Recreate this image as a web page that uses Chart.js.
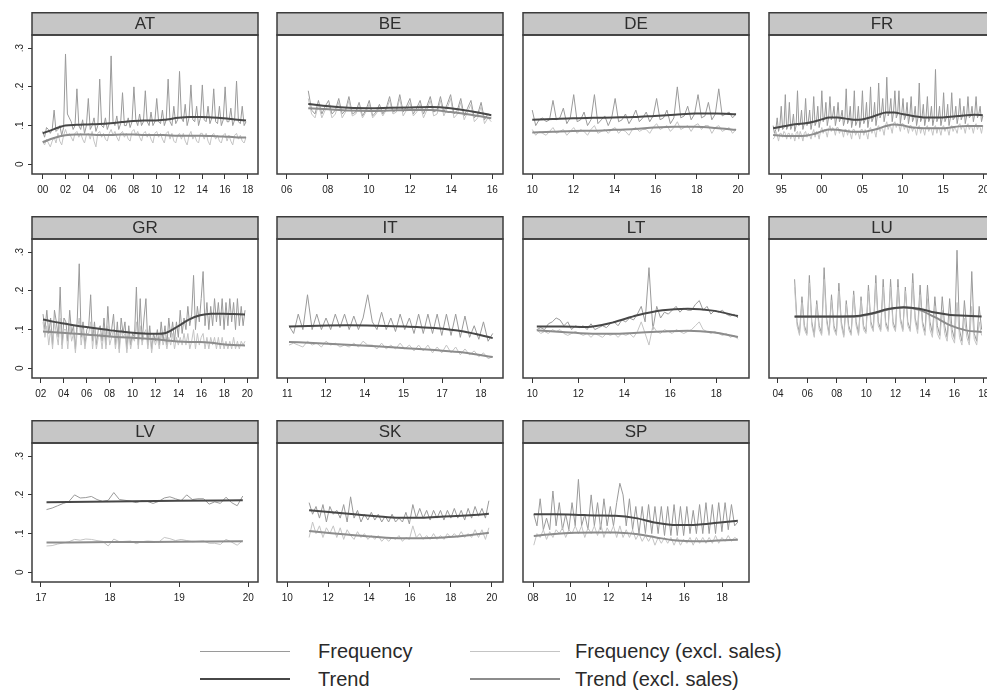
<!DOCTYPE html>
<html lang="en">
<head>
<meta charset="UTF-8"/>
<title>Frequency of price changes by country</title>
<script src="https://cdn.jsdelivr.net/npm/chart.js"></script>
<style>
  body { margin:0; background:#fff; width:987px; height:697px; overflow:hidden; position:relative;
         font-family:"Liberation Sans", Arial, sans-serif; }
  canvas { position:absolute; }
  .lg-line { position:absolute; width:90px; }
  .lg-text { position:absolute; font-size:20px; line-height:24px; color:#2a2a2a; white-space:nowrap; }
</style>
</head>
<body>

<!-- legend -->
<div class="lg-line" style="left:200px; top:651px; border-top:1px solid #9a9a9a;"></div>
<div class="lg-text" style="left:318px; top:639px;">Frequency</div>
<div class="lg-line" style="left:470px; top:651px; border-top:1px solid #c4c4c4;"></div>
<div class="lg-text" style="left:575px; top:639px;">Frequency (excl. sales)</div>
<div class="lg-line" style="left:200px; top:678px; border-top:2px solid #474747;"></div>
<div class="lg-text" style="left:318px; top:667px;">Trend</div>
<div class="lg-line" style="left:470px; top:678px; border-top:2px solid #8c8c8c;"></div>
<div class="lg-text" style="left:575px; top:667px;">Trend (excl. sales)</div>

<script>
// y axis shared by all panels
const yTicks = [0, .1, .2, .3];
const yTickLabels = ['0', '.1', '.2', '.3'];

// ---- AT ----
const atSpan = [2000.0, 2017.85];
const atRange = [1999.06, 2018.9];
const atTicks = [2000, 2002, 2004, 2006, 2008, 2010, 2012, 2014, 2016, 2018];
const atTickLabels = ['00', '02', '04', '06', '08', '10', '12', '14', '16', '18'];
const atFreq = [
  .085,.07,.095,.09,.08,.09, .14,.085,.09,.10,.075,.095, .285,.13,.12,.11,.09,.10,
  .195,.10,.09,.115,.08,.10, .17,.09,.10,.12,.085,.10, .22,.10,.095,.12,.09,.105,
  .28,.11,.10,.125,.09,.105, .185,.10,.10,.12,.095,.11, .20,.115,.10,.13,.10,.11,
  .19,.11,.10,.135,.10,.11, .17,.11,.105,.14,.10,.115, .22,.11,.10,.15,.105,.115,
  .24,.12,.11,.155,.10,.12, .205,.115,.11,.15,.10,.12, .205,.115,.11,.15,.105,.12,
  .195,.11,.105,.15,.10,.115, .20,.11,.11,.145,.10,.115, .215,.11,.105,.15,.10,.11
];
const atFreqEx = [
  .06,.05,.065,.055,.045,.06, .07,.055,.08,.06,.05,.075, .09,.075,.08,.07,.06,.08,
  .085,.07,.08,.065,.055,.075, .08,.065,.085,.06,.045,.08, .085,.07,.08,.065,.06,.08,
  .09,.075,.085,.07,.06,.08, .085,.07,.08,.065,.06,.085, .09,.075,.085,.07,.06,.08,
  .085,.07,.08,.065,.055,.08, .085,.07,.08,.065,.055,.08, .085,.065,.08,.06,.055,.075,
  .08,.065,.08,.06,.05,.075, .085,.065,.075,.06,.055,.08, .08,.065,.08,.06,.05,.075,
  .08,.065,.075,.06,.055,.075, .08,.06,.075,.06,.05,.075, .08,.065,.075,.06,.055,.07
];
const atTrend = [.080,.091,.100,.102,.103,.104,.106,.109,.112,.113,.113,.116,.120,.122,.122,.121,.119,.116,.113];
const atTrendEx = [.057,.068,.075,.077,.077,.076,.076,.077,.077,.076,.076,.075,.074,.074,.074,.073,.072,.070,.069];

// ---- BE ----
const beSpan = [2007.05, 2015.95];
const beRange = [2005.53, 2016.52];
const beTicks = [2006, 2008, 2010, 2012, 2014, 2016];
const beTickLabels = ['06', '08', '10', '12', '14', '16'];
const beFreq = [
  .19,.14,.13,.165,.13,.15, .165,.13,.14,.17,.13,.14, .175,.13,.135,.16,.125,.14,
  .165,.125,.135,.155,.13,.145, .175,.135,.14,.18,.135,.15, .17,.13,.145,.165,.13,.15,
  .175,.135,.14,.175,.135,.155, .18,.13,.14,.17,.125,.145, .165,.12,.13,.16,.115,.13, .125
];
const beFreqEx = [
  .17,.13,.12,.155,.12,.14, .155,.12,.13,.16,.12,.135, .165,.125,.13,.15,.12,.135,
  .155,.12,.13,.145,.125,.14, .165,.13,.135,.17,.125,.14, .16,.125,.135,.155,.12,.14,
  .165,.125,.13,.165,.125,.145, .17,.12,.13,.16,.115,.135, .155,.11,.12,.15,.105,.12, .11
];
const beTrend = [.156,.150,.146,.145,.146,.147,.148,.145,.137,.127];
const beTrendEx = [.145,.142,.139,.138,.139,.140,.140,.135,.128,.119];

// ---- DE ----
const deSpan = [2010.0, 2019.9];
const deRange = [2009.55, 2020.53];
const deTicks = [2010, 2012, 2014, 2016, 2018, 2020];
const deTickLabels = ['10', '12', '14', '16', '18', '20'];
const deFreq = [
  .14,.10,.115,.12,.11,.115, .165,.115,.12,.145,.105,.12, .18,.11,.115,.135,.10,.115,
  .18,.105,.115,.125,.10,.12, .17,.11,.115,.13,.105,.12, .14,.11,.12,.135,.11,.125,
  .17,.115,.12,.14,.105,.12, .20,.12,.125,.15,.115,.13, .18,.12,.125,.16,.115,.13,
  .195,.125,.13,.135,.12,.13
];
const deFreqEx = [
  .09,.075,.085,.08,.075,.085, .095,.08,.085,.09,.075,.085, .095,.08,.09,.085,.075,.09,
  .10,.08,.085,.09,.08,.09, .095,.08,.09,.085,.075,.09, .095,.085,.09,.09,.08,.095,
  .105,.09,.095,.10,.085,.095, .11,.09,.095,.10,.085,.10, .105,.09,.10,.10,.08,.095,
  .10,.085,.09,.095,.08,.09
];
const deTrend = [.115,.117,.119,.120,.121,.122,.125,.128,.131,.131,.129];
const deTrendEx = [.082,.084,.086,.087,.089,.091,.095,.097,.097,.094,.089];

// ---- FR ----
const frSpan = [1994.0, 2019.9];
const frRange = [1993.49, 2021.4];
const frTicks = [1995, 2000, 2005, 2010, 2015, 2020];
const frTickLabels = ['95', '00', '05', '10', '15', '20'];
const frFreq = [
  .10,.08,.09,.12,.085,.10, .15,.09,.095,.18,.09,.10, .16,.09,.10,.13,.085,.10,
  .19,.10,.105,.14,.09,.105, .17,.10,.11,.14,.09,.11, .175,.10,.11,.15,.095,.115,
  .19,.11,.12,.16,.10,.12, .175,.115,.125,.15,.10,.12, .16,.11,.12,.14,.10,.115,
  .195,.105,.115,.15,.095,.115, .19,.10,.11,.15,.095,.115, .19,.105,.115,.16,.095,.12,
  .20,.11,.12,.16,.10,.125, .21,.12,.13,.17,.11,.13, .225,.125,.135,.17,.11,.135,
  .19,.12,.13,.19,.105,.13, .17,.115,.125,.16,.105,.125, .175,.11,.12,.15,.10,.12,
  .21,.11,.12,.155,.10,.12, .175,.11,.12,.15,.10,.12, .245,.11,.12,.15,.10,.12,
  .185,.11,.12,.155,.10,.12, .185,.115,.12,.15,.105,.125, .17,.115,.125,.15,.105,.125,
  .175,.12,.125,.15,.11,.13, .175,.12,.13,.15,.11,.125
];
const frFreqEx = [
  .065,.07,.085,.075,.06,.08, .08,.07,.085,.08,.065,.08, .08,.065,.08,.075,.06,.08,
  .085,.065,.085,.075,.06,.08, .085,.07,.08,.075,.065,.08, .09,.07,.085,.08,.065,.085,
  .095,.08,.09,.085,.07,.09, .10,.085,.095,.09,.075,.095, .095,.08,.09,.085,.07,.09,
  .09,.075,.09,.08,.065,.09, .09,.075,.085,.08,.065,.09, .09,.075,.09,.08,.065,.09,
  .095,.08,.09,.085,.07,.095, .10,.085,.095,.09,.075,.10, .11,.09,.10,.095,.08,.105,
  .11,.095,.105,.10,.085,.105, .105,.09,.10,.095,.08,.10, .10,.085,.095,.09,.075,.095,
  .10,.08,.095,.09,.075,.095, .10,.085,.095,.09,.075,.095, .10,.08,.095,.09,.075,.095,
  .10,.085,.095,.09,.075,.095, .10,.085,.095,.09,.08,.10, .105,.09,.10,.095,.08,.10,
  .105,.09,.10,.095,.08,.10, .105,.09,.10,.095,.08,.10
];
const frTrend = [.093,.097,.101,.104,.106,.110,.116,.121,.121,.118,.115,.116,.121,.128,
                 .134,.134,.130,.126,.123,.121,.121,.121,.123,.125,.127,.128,.127];
const frTrendEx = [.076,.074,.073,.073,.074,.078,.085,.090,.089,.086,.084,.084,.087,.092,
                   .099,.103,.101,.096,.094,.093,.093,.093,.095,.098,.099,.099,.099];

// ---- GR ----
const grSpan = [2002.2, 2019.8];
const grRange = [2001.24, 2020.93];
const grTicks = [2002, 2004, 2006, 2008, 2010, 2012, 2014, 2016, 2018, 2020];
const grTickLabels = ['02', '04', '06', '08', '10', '12', '14', '16', '18', '20'];
const grFreq = [
  .14,.10,.15,.09,.13,.06, .15,.12,.08,.21,.06,.13, .12,.07,.15,.09,.11,.05,
  .13,.27,.08,.12,.06,.10, .11,.19,.07,.12,.06,.10, .11,.07,.13,.06,.16,.08,
  .10,.14,.06,.12,.05,.13, .09,.12,.05,.11,.06,.09, .08,.21,.06,.18,.07,.13,
  .18,.06,.11,.05,.09,.07, .10,.06,.12,.07,.11,.06, .13,.08,.12,.07,.12,.08,
  .15,.09,.13,.10,.16,.11, .14,.24,.10,.16,.12,.18, .25,.11,.17,.10,.16,.11,
  .18,.12,.17,.11,.18,.10, .17,.11,.18,.12,.17,.10, .18,.11,.16,.11,.15
];
const grFreqEx = [
  .12,.08,.11,.06,.10,.05, .12,.09,.06,.13,.05,.10, .10,.05,.11,.07,.09,.04,
  .10,.13,.06,.10,.05,.09, .09,.12,.05,.10,.05,.08, .09,.05,.10,.05,.11,.06,
  .08,.10,.05,.09,.04,.10, .08,.09,.04,.09,.05,.08, .07,.12,.05,.11,.06,.09,
  .10,.05,.09,.04,.08,.06, .08,.05,.09,.06,.08,.05, .08,.06,.09,.05,.08,.06,
  .08,.06,.09,.06,.09,.05, .07,.10,.05,.09,.06,.08, .09,.05,.08,.05,.08,.06,
  .08,.05,.08,.05,.08,.05, .07,.05,.07,.05,.08,.05, .07,.05,.07,.06,.07
];
const grTrend = [.126,.120,.115,.110,.106,.102,.098,.095,.092,.090,.089,.092,.108,.126,.137,.141,.141,.140,.139];
const grTrendEx = [.095,.093,.091,.089,.087,.085,.082,.080,.079,.077,.075,.072,.069,.068,.068,.066,.062,.060,.059];

// ---- IT ----
const itSpan = [2011.07, 2019.4];
const itRange = [2010.58, 2019.82];
const itTicks = [2011, 2012.583, 2014.167, 2015.75, 2017.333, 2018.917];
const itTickLabels = ['11', '12', '14', '15', '17', '18'];
const itFreq = [
  .11,.09,.14,.10,.19,.10, .14,.10,.13,.10,.14,.105, .14,.10,.135,.10,.13,.19,
  .12,.10,.145,.10,.13,.095, .14,.10,.13,.09,.14,.09, .14,.09,.14,.085,.14,.085,
  .14,.08,.135,.08,.11,.075, .12,.07,.09
];
const itFreqEx = [
  .06,.065,.06,.055,.07,.06, .065,.055,.07,.06,.065,.055, .06,.055,.065,.055,.07,.06,
  .06,.05,.065,.05,.06,.05, .065,.05,.06,.045,.06,.045, .06,.04,.055,.04,.06,.04,
  .055,.035,.05,.035,.045,.03, .04,.025,.03
];
const itTrend = [.108,.110,.111,.110,.108,.104,.095,.078];
const itTrendEx = [.068,.065,.061,.057,.052,.047,.041,.029];

// ---- LT ----
const ltSpan = [2010.2, 2018.94];
const ltRange = [2009.6, 2019.42];
const ltTicks = [2010, 2012, 2014, 2016, 2018];
const ltTickLabels = ['10', '12', '14', '16', '18'];
const ltFreq = [
  .10,.105,.10,.115,.12, .13,.125,.11,.12,.10,.11, .105,.11,.10,.115,.10,.105,
  .11,.105,.115,.12,.11,.125, .12,.13,.125,.14,.16,.12, .26,.10,.16,.13,.145,.14,
  .15,.16,.145,.155,.15,.15, .165,.175,.15,.16,.14,.15, .145,.15,.14,.135,.14,.13
];
const ltFreqEx = [
  .10,.09,.095,.09,.10, .095,.10,.09,.085,.09,.095, .09,.085,.09,.08,.09,.085,
  .08,.09,.085,.09,.08,.09, .085,.09,.08,.095,.12,.09, .06,.11,.095,.09,.10,.095,
  .09,.10,.095,.09,.095,.10, .11,.12,.10,.095,.09,.095, .09,.085,.09,.08,.085,.075
];
const ltTrend = [.108,.108,.107,.118,.137,.150,.154,.149,.135];
const ltTrendEx = [.098,.094,.090,.089,.092,.095,.097,.093,.081];

// ---- LU ----
const luSpan = [2005.13, 2017.85];
const luRange = [2003.39, 2018.76];
const luTicks = [2004, 2006, 2008, 2010, 2012, 2014, 2016, 2018];
const luTickLabels = ['04', '06', '08', '10', '12', '14', '16', '18'];
const luFreq = [
  .23,.12,.09,.185,.11,.09, .24,.12,.085,.175,.11,.09, .26,.13,.09,.19,.11,.09,
  .22,.12,.085,.175,.11,.09, .20,.12,.09,.185,.11,.095, .215,.12,.10,.24,.12,.10,
  .23,.12,.10,.23,.12,.10, .23,.13,.10,.21,.12,.10, .245,.13,.10,.215,.12,.095,
  .215,.12,.09,.185,.11,.085, .185,.11,.08,.18,.10,.075, .305,.10,.07,.175,.10,.07,
  .25,.09,.07,.16,.10
];
const luFreqEx = [
  .21,.11,.085,.17,.10,.085, .22,.11,.08,.165,.10,.085, .23,.12,.085,.175,.10,.085,
  .20,.11,.08,.165,.10,.085, .19,.11,.085,.175,.10,.09, .20,.11,.095,.22,.11,.095,
  .21,.11,.095,.21,.11,.095, .21,.12,.095,.20,.11,.095, .22,.12,.09,.19,.11,.085,
  .18,.10,.08,.16,.09,.075, .15,.09,.07,.14,.08,.065, .17,.08,.06,.13,.08,.06,
  .16,.075,.06,.12,.085
];
const luTrend = [.134,.134,.134,.134,.135,.142,.153,.158,.154,.144,.138,.136,.134];
const luTrendEx = [.133,.133,.133,.133,.134,.141,.152,.157,.151,.132,.111,.098,.094];

// ---- LV ----
const lvSpan = [2017.08, 2019.92];
const lvRange = [2016.87, 2020.14];
const lvTicks = [2017, 2018, 2019, 2020];
const lvTickLabels = ['17', '18', '19', '20'];
const lvFreq = [.162,.166,.172,.178,.183,.200,.192,.193,.196,.188,.183,.186,.206,.188,.186,.184,.180,.185,
                .183,.178,.183,.192,.195,.190,.185,.200,.188,.190,.190,.176,.182,.178,.194,.180,.172,.197];
const lvFreqEx = [.068,.069,.073,.076,.079,.085,.083,.086,.085,.082,.080,.068,.086,.079,.080,.081,.074,.079,
                  .081,.080,.078,.090,.087,.082,.085,.082,.079,.080,.081,.075,.075,.072,.085,.078,.070,.082];
const lvTrend = [.181,.183,.185,.186];
const lvTrendEx = [.077,.078,.079,.080];

// ---- SK ----
const skSpan = [2011.07, 2019.86];
const skRange = [2009.5, 2020.55];
const skTicks = [2010, 2012, 2014, 2016, 2018, 2020];
const skTickLabels = ['10', '12', '14', '16', '18', '20'];
const skFreq = [
  .18,.15,.17,.14,.175,.13, .17,.15,.16,.14,.175,.13, .195,.14,.16,.13,.15,.135,
  .155,.135,.15,.13,.145,.13, .15,.13,.14,.13,.155,.125, .175,.14,.165,.14,.16,.135,
  .16,.14,.16,.135,.16,.14, .165,.14,.16,.135,.165,.14, .17,.145,.165,.14,.185
];
const skFreqEx = [
  .09,.13,.10,.12,.09,.115, .10,.12,.09,.115,.085,.11, .095,.085,.105,.09,.10,.085,
  .095,.085,.095,.08,.09,.08, .09,.085,.095,.08,.09,.085, .12,.09,.10,.085,.095,.085,
  .10,.085,.095,.085,.10,.09, .10,.09,.105,.09,.10,.09, .11,.09,.11,.085,.115
];
const skTrend = [.160,.155,.150,.145,.141,.141,.144,.147,.151];
const skTrendEx = [.107,.101,.096,.091,.088,.088,.090,.095,.102];

// ---- SP ----
const spSpan = [2008.04, 2018.83];
const spRange = [2007.47, 2019.42];
const spTicks = [2008, 2010, 2012, 2014, 2016, 2018];
const spTickLabels = ['08', '10', '12', '14', '16', '18'];
const spFreq = [
  .15,.12,.19,.11,.14,.11, .21,.12,.18,.11,.15,.11, .18,.12,.24,.12,.15,.11,
  .20,.12,.18,.11,.19,.12, .17,.12,.18,.23,.20,.12, .19,.11,.17,.10,.17,.10,
  .175,.10,.17,.10,.17,.095, .17,.095,.175,.095,.17,.095, .17,.10,.16,.10,.175,.10,
  .18,.10,.175,.10,.18,.105, .18,.11,.175,.12,.13
];
const spFreqEx = [
  .07,.10,.09,.11,.085,.105, .09,.11,.10,.115,.09,.11, .10,.12,.10,.12,.09,.115,
  .10,.12,.095,.125,.09,.115, .10,.12,.09,.12,.09,.11, .09,.11,.085,.10,.08,.095,
  .08,.095,.07,.09,.075,.09, .075,.09,.07,.09,.07,.085, .075,.09,.07,.09,.075,.09,
  .075,.09,.075,.095,.075,.09, .08,.095,.08,.09,.085
];
const spTrend = [.150,.150,.149,.147,.146,.140,.128,.122,.123,.128,.133];
const spTrendEx = [.094,.099,.102,.103,.103,.099,.090,.082,.080,.082,.084];

// panel grid (page pixels)
const COL_LEFT = [32, 277, 523, 769];
const ROW_TOP = [12, 216, 420];
const STRIP_H = 23, PLOT_W = 226, PLOT_H = 139, YAXIS_W = 32, XAXIS_H = 30;
const Y_MIN = -0.025, Y_MAX = 0.334;

const panels = [
  { name:'AT', col:0, row:0, span:atSpan, range:atRange, ticks:atTicks, labels:atTickLabels, freq:atFreq, freqEx:atFreqEx, trend:atTrend, trendEx:atTrendEx },
  { name:'BE', col:1, row:0, span:beSpan, range:beRange, ticks:beTicks, labels:beTickLabels, freq:beFreq, freqEx:beFreqEx, trend:beTrend, trendEx:beTrendEx },
  { name:'DE', col:2, row:0, span:deSpan, range:deRange, ticks:deTicks, labels:deTickLabels, freq:deFreq, freqEx:deFreqEx, trend:deTrend, trendEx:deTrendEx },
  { name:'FR', col:3, row:0, span:frSpan, range:frRange, ticks:frTicks, labels:frTickLabels, freq:frFreq, freqEx:frFreqEx, trend:frTrend, trendEx:frTrendEx },
  { name:'GR', col:0, row:1, span:grSpan, range:grRange, ticks:grTicks, labels:grTickLabels, freq:grFreq, freqEx:grFreqEx, trend:grTrend, trendEx:grTrendEx },
  { name:'IT', col:1, row:1, span:itSpan, range:itRange, ticks:itTicks, labels:itTickLabels, freq:itFreq, freqEx:itFreqEx, trend:itTrend, trendEx:itTrendEx },
  { name:'LT', col:2, row:1, span:ltSpan, range:ltRange, ticks:ltTicks, labels:ltTickLabels, freq:ltFreq, freqEx:ltFreqEx, trend:ltTrend, trendEx:ltTrendEx },
  { name:'LU', col:3, row:1, span:luSpan, range:luRange, ticks:luTicks, labels:luTickLabels, freq:luFreq, freqEx:luFreqEx, trend:luTrend, trendEx:luTrendEx },
  { name:'LV', col:0, row:2, span:lvSpan, range:lvRange, ticks:lvTicks, labels:lvTickLabels, freq:lvFreq, freqEx:lvFreqEx, trend:lvTrend, trendEx:lvTrendEx },
  { name:'SK', col:1, row:2, span:skSpan, range:skRange, ticks:skTicks, labels:skTickLabels, freq:skFreq, freqEx:skFreqEx, trend:skTrend, trendEx:skTrendEx },
  { name:'SP', col:2, row:2, span:spSpan, range:spRange, ticks:spTicks, labels:spTickLabels, freq:spFreq, freqEx:spFreqEx, trend:spTrend, trendEx:spTrendEx }
];

// values are evenly spaced in time across the series' span
function toPoints(vals, span) {
  const n = vals.length;
  return vals.map((v, i) => ({ x: span[0] + i * (span[1] - span[0]) / (n - 1), y: v }));
}

const FONT = '"Liberation Sans", Arial, sans-serif';

// strip header, plot frame and rotated y labels
const deco = {
  id: 'deco',
  afterDraw(chart, args, o) {
    const ctx = chart.ctx, a = chart.chartArea;
    const w = a.right - a.left;
    ctx.save();
    ctx.fillStyle = '#c6c6c6';
    ctx.fillRect(a.left, a.top - STRIP_H, w, STRIP_H);
    ctx.strokeStyle = '#3c3c3c';
    ctx.lineWidth = 1.5;
    ctx.strokeRect(a.left, a.top - STRIP_H + 0.75, w, STRIP_H - 0.75);
    ctx.strokeRect(a.left, a.top, w, a.bottom - a.top);
    ctx.fillStyle = '#2e2e2e';
    ctx.font = '17px ' + FONT;
    ctx.textAlign = 'center';
    ctx.textBaseline = 'middle';
    ctx.fillText(o.title, (a.left + a.right) / 2, a.top - STRIP_H / 2 + 1);
    if (o.showY) {
      const ys = chart.scales.y;
      ctx.font = '10px ' + FONT;
      ctx.fillStyle = '#222';
      yTicks.forEach((v, i) => {
        ctx.save();
        ctx.translate(a.left - 12, ys.getPixelForValue(v));
        ctx.rotate(-Math.PI / 2);
        ctx.fillText(yTickLabels[i], 0, 0);
        ctx.restore();
      });
    }
    ctx.restore();
  }
};

panels.forEach(p => {
  const cv = document.createElement('canvas');
  cv.width = YAXIS_W + PLOT_W + 6;
  cv.height = STRIP_H + PLOT_H + XAXIS_H;
  cv.style.left = (COL_LEFT[p.col] - YAXIS_W) + 'px';
  cv.style.top = ROW_TOP[p.row] + 'px';
  document.body.appendChild(cv);
  const showY = p.col === 0;

  new Chart(cv, {
    type: 'line',
    data: {
      datasets: [
        { label: 'Trend', data: toPoints(p.trend, p.span), borderColor: '#474747', borderWidth: 2,
          pointRadius: 0, cubicInterpolationMode: 'monotone' },
        { label: 'Trend (excl. sales)', data: toPoints(p.trendEx, p.span), borderColor: '#8c8c8c', borderWidth: 2,
          pointRadius: 0, cubicInterpolationMode: 'monotone' },
        { label: 'Frequency (excl. sales)', data: toPoints(p.freqEx, p.span), borderColor: '#c4c4c4', borderWidth: 1,
          pointRadius: 0, tension: 0 },
        { label: 'Frequency', data: toPoints(p.freq, p.span), borderColor: '#9a9a9a', borderWidth: 1,
          pointRadius: 0, tension: 0 }
      ]
    },
    options: {
      responsive: false,
      devicePixelRatio: 1,
      animation: false,
      layout: { padding: { top: STRIP_H, right: 6, left: 0, bottom: 0 } },
      plugins: { legend: { display: false }, tooltip: { enabled: false }, deco: { title: p.name, showY } },
      scales: {
        x: {
          type: 'linear', min: p.range[0], max: p.range[1],
          afterBuildTicks: s => { s.ticks = p.ticks.map(v => ({ value: v })); },
          afterFit: s => { s.height = XAXIS_H; },
          ticks: { callback: (v, i) => p.labels[i], autoSkip: false, maxRotation: 0, minRotation: 0,
                   font: { size: 10, family: FONT }, color: '#222', padding: 5 },
          grid: { drawOnChartArea: false, drawTicks: true, tickLength: 5, color: '#333' },
          border: { display: false }
        },
        y: {
          type: 'linear', min: Y_MIN, max: Y_MAX,
          afterBuildTicks: s => { s.ticks = yTicks.map(v => ({ value: v })); },
          afterFit: s => { s.width = YAXIS_W; },
          ticks: { display: false },
          grid: { display: showY, drawOnChartArea: false, drawTicks: true, tickLength: 4, color: '#333' },
          border: { display: false }
        }
      }
    },
    plugins: [deco]
  });
});
</script>
</body>
</html>
